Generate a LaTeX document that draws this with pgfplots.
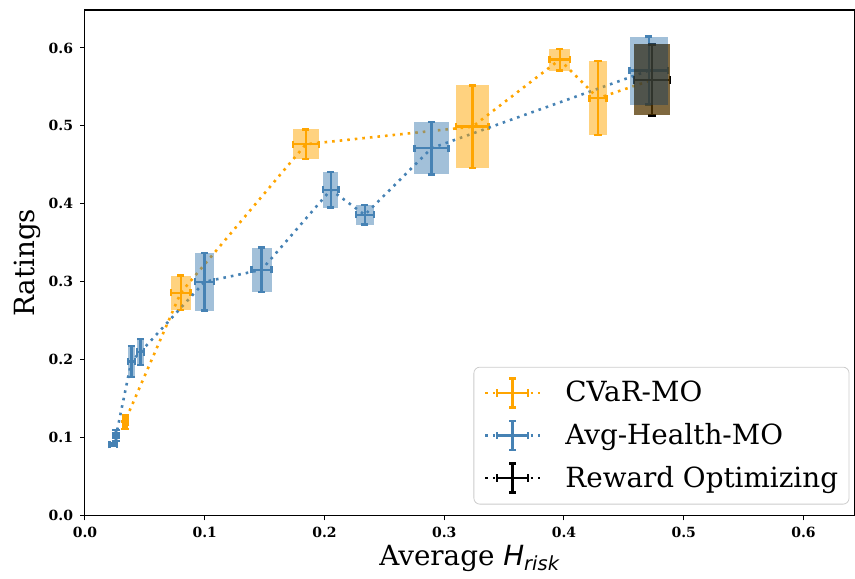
\documentclass[border=0pt]{standalone}
\usepackage{fontspec}
\setmainfont{DejaVu Serif}
\newfontfamily\dvsans{DejaVu Sans}
\usepackage{pgfplots}
\usepackage{pgfplotstable}
\pgfplotsset{compat=1.18}

\definecolor{cvar}{HTML}{FFA500}
\definecolor{avgh}{HTML}{4682B4}
\definecolor{rwd}{HTML}{000000}

\pgfdeclareplotmark{nothing}{}

% x y, half widths of the boxes / error bars
\pgfplotstableread{
x y ex ey
0.0334 0.116 0.0018 0.005
0.0340 0.123 0.0018 0.006
0.0800 0.286 0.0083 0.022
0.1845 0.4765 0.011 0.019
0.3236 0.499 0.0135 0.053
0.3965 0.585 0.0086 0.014
0.4285 0.5355 0.0072 0.0474
0.4735 0.559 0.0149 0.0455
}\tabcvar

\pgfplotstableread{
x y ex ey
0.0236 0.091 0.003 0.002
0.0260 0.103 0.002 0.007
0.0388 0.198 0.003 0.020
0.0464 0.210 0.003 0.017
0.1000 0.300 0.008 0.037
0.1475 0.3154 0.0083 0.0285
0.2053 0.418 0.0063 0.0228
0.2337 0.3859 0.0075 0.0124
0.2894 0.4714 0.0142 0.0337
0.4708 0.571 0.016 0.0436
}\tabavgh

\pgfplotstableread{
x y ex ey
0.4735 0.559 0.0149 0.0455
}\tabrwd

\pgfplotsset{
  boxes/.style={
    forget plot, only marks, scatter, point meta=y, mark=nothing,
    visualization depends on={\thisrow{ex}\as\bex},
    visualization depends on={\thisrow{ey}\as\bey},
    scatter/@pre marker code/.code={%
      \path[fill=#1, draw=none, fill opacity=0.5] (axis direction cs:-\bex,-\bey) rectangle (axis direction cs:\bex,\bey);
    },
    scatter/@post marker code/.code={},
  },
  ebline/.style={
    #1, line width=1.3pt, dash pattern=on 1.3pt off 2.5pt, mark=none,
    error bars/.cd, x dir=both, y dir=both, x explicit, y explicit,
    error bar style={#1, line width=1.2pt, solid},
    error mark options={rotate=90, mark size=1.8pt, line width=1.2pt, solid},
    /pgfplots/.cd,
  },
  ebleg/.style={legend image code/.code={
    \draw[#1, line width=1.3pt, dash pattern=on 1.3pt off 2.5pt] (0pt,0pt) -- (27.5pt,0pt);
    \draw[#1, line width=1.2pt, solid] (6pt,0pt) -- (21.5pt,0pt)
      (13.75pt,-7.25pt) -- (13.75pt,7.25pt)
      (6pt,-1.8pt) -- (6pt,1.8pt) (21.5pt,-1.8pt) -- (21.5pt,1.8pt)
      (12pt,-7.25pt) -- (15.5pt,-7.25pt) (12pt,7.25pt) -- (15.5pt,7.25pt);
  }},
}

\begin{document}
\begin{tikzpicture}
\begin{axis}[
  scale only axis,
  width=385pt, height=253pt,
  xmin=0, xmax=0.6426, ymin=0, ymax=0.6487,
  xtick={0,0.1,...,0.6}, ytick={0,0.1,...,0.6},
  tick align=outside, tick pos=left,
  major tick length=2.4pt,
  every tick/.style={black, line width=0.55pt},
  axis line style={line width=0.55pt},
  /pgf/number format/.cd, fixed, fixed zerofill, precision=1, assume math mode=true,
  /pgfplots/.cd,
  ticklabel style={font=\fontsize{7}{8}\selectfont\bfseries},
  label style={font=\fontsize{13.9}{16}\selectfont},
  xlabel={Average {\dvsans\itshape H\textsubscript{risk}}},
  ylabel={Ratings},
  xlabel style={at={([yshift=-25pt]axis description cs:0.5,0)}, anchor=base},
  ylabel style={at={([xshift=-25pt]axis description cs:0,0.5)}, anchor=base},
  legend style={at={(0.9935,0.022)}, anchor=south east,
    draw=black!20, rounded corners=3pt, fill=white, fill opacity=0.8, text opacity=1,
    font=\fontsize{13.9}{16}\selectfont, row sep=5.3pt, inner xsep=5pt, inner ysep=5pt,
    nodes={inner xsep=0.5pt},
    /tikz/every odd column/.append style={column sep=11.5pt}},
  legend cell align=left,
]
\addplot[boxes=cvar] table[x=x,y=y]{\tabcvar};
\addplot[ebline=cvar, ebleg=cvar] table[x=x,y=y,x error=ex,y error=ey]{\tabcvar};
\addlegendentry{CVaR-MO}
\addplot[boxes=avgh] table[x=x,y=y]{\tabavgh};
\addplot[ebline=avgh, ebleg=avgh] table[x=x,y=y,x error=ex,y error=ey]{\tabavgh};
\addlegendentry{Avg-Health-MO}
\addplot[boxes=rwd] table[x=x,y=y]{\tabrwd};
\addplot[ebline=rwd, ebleg=rwd] table[x=x,y=y,x error=ex,y error=ey]{\tabrwd};
\addlegendentry{Reward Optimizing}
\end{axis}
\path[use as bounding box] ([xshift=-42.5pt,yshift=-31pt]current axis.south west)
  rectangle ([xshift=-0.3pt,yshift=5pt]current axis.north east);
\end{tikzpicture}
\end{document}
